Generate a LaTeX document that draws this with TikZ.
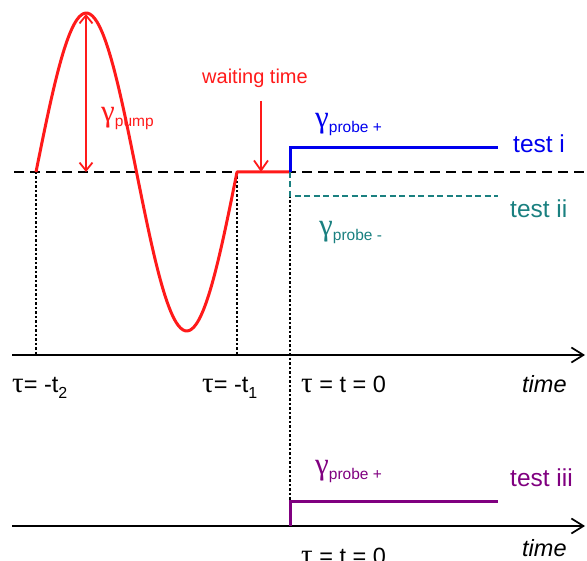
\documentclass[tikz,border=0pt]{standalone}
\usepackage{fontspec}
\setmainfont{Liberation Sans}
\newfontfamily\grk{Liberation Serif}
\usetikzlibrary{arrows.meta}
\definecolor{pmred}{HTML}{FF1A1A}
\definecolor{pmblue}{HTML}{0000EE}
\definecolor{pmteal}{HTML}{1A8080}
\definecolor{pmpurple}{HTML}{800080}
\newcommand{\sz}[1]{\fontsize{#1}{#1}\selectfont}
\newcommand{\gsub}[1]{{\grk\sz{31}γ}\raisebox{-5pt}{\sz{15.5}#1}}
\newcommand{\tsub}[1]{\raisebox{-6pt}{\sz{16}#1}}
\newcommand{\tauch}{{\grk\sz{29}τ}}
\tikzset{
  axis/.style      = {draw=black, line width=1.7pt,
                      -{Straight Barb[length=12pt,width=15pt,line width=1.7pt]}},
  level/.style     = {draw=black, line width=1.7pt, dash pattern=on 10pt off 6pt},
  guide/.style     = {draw=black, line width=1.4pt, dash pattern=on 2.5pt off 2pt},
  pump/.style      = {draw=pmred, line width=3pt, line join=round},
  pumparrow/.style = {draw=pmred, line width=1.8pt,
                      {Straight Barb[length=8pt,width=13pt,line width=1.8pt]}-%
                      {Straight Barb[length=8pt,width=13pt,line width=1.8pt]}},
  waitarrow/.style = {draw=pmred, line width=1.8pt,
                      -{Straight Barb[length=10pt,width=14pt,line width=1.8pt]}},
  probeplus/.style = {draw=pmblue, line width=3pt},
  probeminus/.style= {draw=pmteal, line width=2.8pt, dash pattern=on 6pt off 3.5pt},
  probeiii/.style  = {draw=pmpurple, line width=3pt},
  lbl/.style       = {inner sep=0pt, anchor=base west},
  ticklbl/.style   = {lbl, font=\sz{23.5}},
  testlbl/.style   = {lbl, font=\sz{24.5}},
  glbl/.style      = {lbl, font=\sz{24}},
}

\begin{document}
\begin{tikzpicture}[x=1pt, y=-1pt]
  \useasboundingbox (0,0) rectangle (587,561);

  % ---------- reference points --------------------------------------------
  \coordinate (t2)   at (36,172);
  \coordinate (t1)   at (237,172);
  \coordinate (t0)   at (290,172);
  \coordinate (peak) at (86,14);
  \coordinate (mid)  at (86,172);
  \coordinate (wtop) at (261,101);
  \coordinate (wbot) at (261,172);

  % ---------- axes and guides ---------------------------------------------
  \draw[level] (14,172) -- (587,172);
  \draw[axis] (12,355) coordinate (ax1) -- (585,355);
  \draw[axis] (12,526) coordinate (ax2) -- (585,526);
  \draw[guide] (t2) -- (t2 |- ax1);
  \draw[guide] (t1) -- (t1 |- ax1);
  \draw[guide] (290,196) -- (290,502);

  % ---------- pump and waiting time ---------------------------------------
  \draw[pump] plot[domain=0:201, samples=90, smooth]
      ({36+\x},{172-159*sin(\x*1.79104)}) -- (t0);
  \draw[pumparrow] (mid) -- (peak);
  \draw[waitarrow] (wtop) -- (wbot);

  % ---------- probes ------------------------------------------------------
  \draw[probeplus]  (t0) -- (290,148) -- (498,148);
  \draw[probeminus] (t0) -- (290,196) -- (498,196);
  \draw[probeiii]   (t0 |- ax2) -- (290,502) -- (498,502);

  % ---------- labels ------------------------------------------------------
  \node[lbl, font=\sz{20}, text=pmred] (wait) at (202,84) {waiting time};
  \node[glbl, text=pmred] (gpump) at (101,122) {\gsub{pump}};
  \node[glbl, text=pmblue] (gplus) at (315,128) {\gsub{probe +}};
  \node[glbl, text=pmteal] (gminus) at (319,236) {\gsub{probe -}};
  \node[glbl, text=pmpurple] (gplus3) at (315,475) {\gsub{probe +}};

  \node[testlbl, text=pmblue] (testi) at (513,153) {test i};
  \node[testlbl, text=pmteal] (testii) at (510,218) {test ii};
  \node[testlbl, text=pmpurple] (testiii) at (510,487) {test iii};

  \node[ticklbl] (lt2) at (12,393) {\tauch= -t\tsub{2}};
  \node[ticklbl] (lt1) at (202,393) {\tauch= -t\tsub{1}};
  \node[ticklbl] (lt0) at (301,393) {\tauch{} = t = 0};
  \node[ticklbl, font=\sz{23.5}\itshape] (ltime) at (522,393) {time};
  \node[ticklbl] (lt0b) at (301,564) {\tauch{} = t = 0};
  \node[ticklbl, font=\sz{23.5}\itshape] (ltimeb) at (522,556) {time};

\end{tikzpicture}
\end{document}
